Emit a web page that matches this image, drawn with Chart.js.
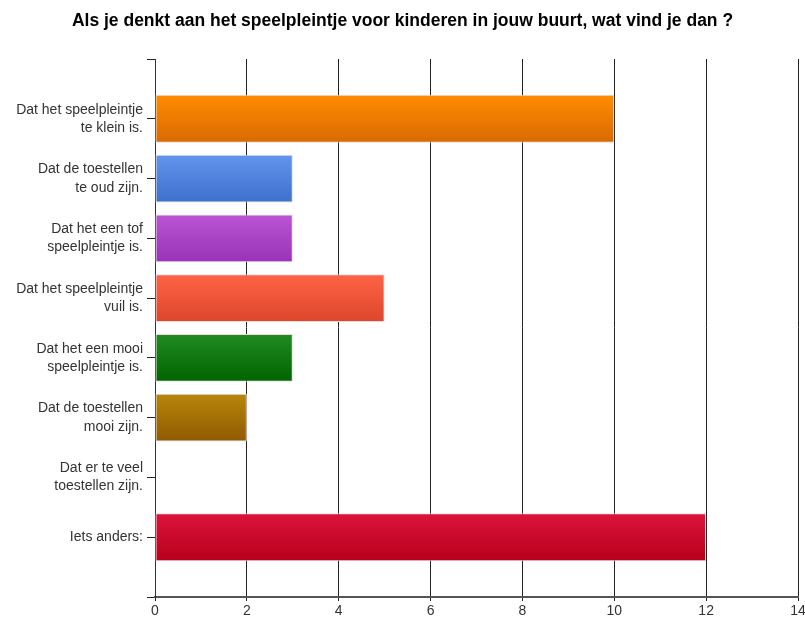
<!DOCTYPE html>
<html>
<head>
<meta charset="utf-8">
<script src="https://cdn.jsdelivr.net/npm/chart.js@4"></script>
<style>
  body { margin: 0; background: #fff; }
  #wrap { width: 805px; height: 619px; }
</style>
</head>
<body>
<div id="wrap"><canvas id="chart"></canvas></div>
<script>
// answers (two lines each, like the original)
var categories = [
    ['Dat het speelpleintje', 'te klein is.'],
    ['Dat de toestellen', 'te oud zijn.'],
    ['Dat het een tof', 'speelpleintje is.'],
    ['Dat het speelpleintje', 'vuil is.'],
    ['Dat het een mooi', 'speelpleintje is.'],
    ['Dat de toestellen', 'mooi zijn.'],
    ['Dat er te veel', 'toestellen zijn.'],
    'Iets anders:'
]
var counts = [10, 3, 3, 5, 3, 2, 0, 12]

// gradient colours per bar, top -> bottom
var topColors = ['#ff8c00', '#6495ed', '#ba55d3', '#ff6347', '#228b22', '#b8860b', '#999999', '#dc143c']
var bottomColors = ['#d86a00', '#3d6fcc', '#9932b8', '#dc462a', '#006400', '#8f5a00', '#777777', '#b8001c']

var titleText = 'Als je denkt aan het speelpleintje voor kinderen in jouw buurt, wat vind je dan ?'

// empty slot above and below so the bands line up like the original
var labels = [''].concat(categories).concat([''])
var values = [null].concat(counts).concat([null])

function barGradient(c) {
    var i = c.dataIndex - 1
    if (i < 0 || i >= counts.length) return '#ccc'
    var y = c.chart.scales.y
    if (!y) return topColors[i]
    var mid = y.getPixelForValue(c.dataIndex)
    if (!isFinite(mid)) return topColors[i]
    var g = c.chart.ctx.createLinearGradient(0, mid - 24, 0, mid + 24)
    g.addColorStop(0, topColors[i])
    g.addColorStop(1, bottomColors[i])
    return g
}

var context = document.getElementById('chart').getContext('2d');
new Chart(context, {
    type: 'bar',
    data: {
        labels: labels,
        datasets: [{
            data: values,
            backgroundColor: barGradient,
            borderColor: '#e6dcdc',
            borderWidth: 1,
            borderSkipped: false,
            categoryPercentage: 0.8,
            barPercentage: 1
        }]
    },
    options: {
        indexAxis: 'y',
        responsive: true,
        maintainAspectRatio: false,
        animation: false,
        plugins: {
            legend: { display: false },
            tooltip: { enabled: false },
            title: {
                display: true,
                text: titleText,
                color: '#000',
                font: { family: 'Liberation Sans, Arial', size: 17.5, weight: 'bold' },
                padding: { top: 11, bottom: 27 }
            }
        },
        scales: {
            x: {
                min: 0,
                max: 14,
                ticks: {
                    stepSize: 2,
                    color: '#333',
                    padding: 2,
                    font: { family: 'Liberation Sans, Arial', size: 14 }
                },
                grid: { color: '#222', lineWidth: 1, tickLength: 4 },
                border: { color: '#555', width: 2 },
                afterFit: function (scale) {
                    scale.height = 22
                    scale.paddingRight = 7
                }
            },
            y: {
                offset: false,
                ticks: {
                    autoSkip: false,
                    color: '#333',
                    padding: 4,
                    font: { family: 'Liberation Sans, Arial', size: 14, lineHeight: 1.3 }
                },
                grid: { offset: false, drawOnChartArea: false, color: '#222', tickLength: 8 },
                border: { color: '#333', width: 1 },
                afterFit: function (scale) { scale.width = 155 }
            }
        }
    }
});
</script>
</body>
</html>
